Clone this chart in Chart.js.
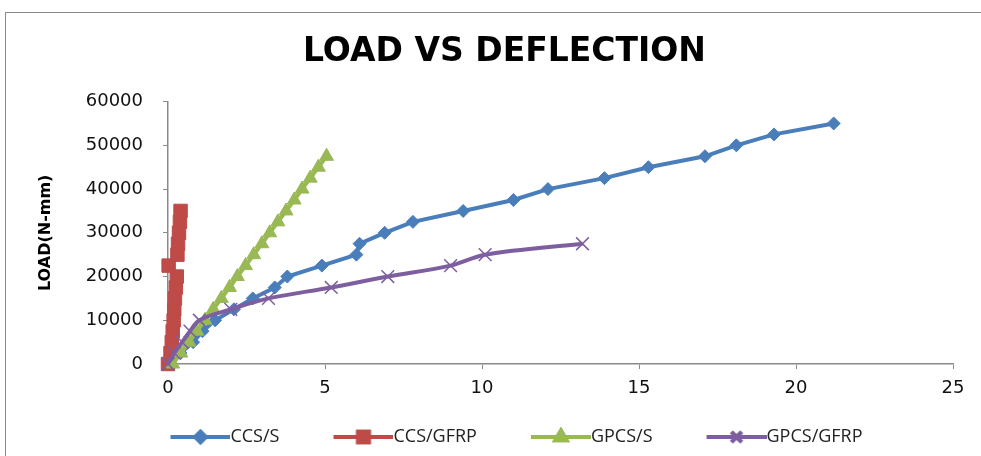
<!DOCTYPE html>
<html>
<head>
<meta charset="utf-8">
<title>Load vs Deflection</title>
<script src="https://cdn.jsdelivr.net/npm/chart.js@4/dist/chart.umd.min.js"></script>
<style>
    html, body { margin: 0; padding: 0; background: #fff; overflow: hidden; }
    #wrap { position: relative; width: 981px; height: 456px; }
    #frame { position: absolute; left: 5px; top: 12px; width: 990px; height: 470px; border: 1px solid #8a8a8a; box-sizing: border-box; }
    #myChart { position: absolute; left: 0; top: 0; }
</style>
</head>
<body>
<div id="wrap">
    <div id="frame"></div>
    <canvas id="myChart" width="981" height="456"></canvas>
</div>
<script>
(function () {
    'use strict';

    var seriesNames = ['CCS/S', 'CCS/GFRP', 'GPCS/S', 'GPCS/GFRP'];

    var ccsSDefl = [0, 0.4, 0.8, 1.1, 1.5, 2.1, 2.7, 3.4, 3.8, 4.9, 6.0, 6.1, 6.9, 7.8, 9.4, 11.0, 12.1, 13.9, 15.3, 17.1, 18.1, 19.3, 21.2];
    var ccsSLoad = [0, 2500, 5000, 7500, 10000, 12500, 15000, 17500, 20000, 22500, 25000, 27500, 30000, 32500, 35000, 37500, 40000, 42500, 45000, 47500, 50000, 52500, 55000];

    var ccsGfrpDefl = [0, 0.08, 0.12, 0.15, 0.18, 0.2, 0.22, 0.25, 0.28, 0.02, 0.3, 0.32, 0.35, 0.38, 0.4];
    var ccsGfrpLoad = [0, 2500, 5000, 7500, 10000, 12500, 15000, 17500, 20000, 22500, 25000, 27500, 30000, 32500, 35000];

    var gpcsSDefl = [0.15, 0.41, 0.67, 0.92, 1.18, 1.44, 1.7, 1.96, 2.21, 2.47, 2.73, 2.99, 3.24, 3.5, 3.76, 4.02, 4.27, 4.53, 4.79, 5.05];
    var gpcsSLoad = [0, 2500, 5000, 7500, 10000, 12500, 15000, 17500, 20000, 22500, 25000, 27500, 30000, 32500, 35000, 37500, 40000, 42500, 45000, 47500];

    var gpcsGfrpDefl = [0, 0.2, 0.45, 0.7, 1.0, 2.0, 3.2, 5.2, 7.0, 9.0, 10.1, 13.2];
    var gpcsGfrpLoad = [0, 2500, 5000, 7500, 10000, 12500, 15000, 17500, 20000, 22500, 25000, 27500];

    var xTicks = [0, 5, 10, 15, 20, 25];
    var yTicks = [0, 10000, 20000, 30000, 40000, 50000, 60000];

    var colors = ['#4A7EBB', '#BE4B48', '#98B954', '#7D5FA0'];
    var markers = ['rectRot', 'rect', 'triangle', 'crossRot'];
    var markerSize = [6.5, 9.5, 8, 9];

    // legend box is wider than the drawn sample, the blank left part spaces the items
    var legendBox = 95;
    var legendLine = 60;

    function toPoints(xs, ys) {
        var pts = [];
        xs.forEach(function (x, i) {
            pts.push({ x: x, y: ys[i] });
        });
        return pts;
    }

    // line + marker sample for the legend
    function legendIcon(i) {
        var c = document.createElement('canvas');
        c.width = legendBox + 18;
        c.height = 20;
        var x0 = c.width - legendLine;
        var ctx = c.getContext('2d');
        ctx.strokeStyle = colors[i];
        ctx.fillStyle = colors[i];
        ctx.lineWidth = 4;
        ctx.beginPath();
        ctx.moveTo(x0, 10);
        ctx.lineTo(c.width, 10);
        ctx.stroke();
        Chart.helpers.drawPoint(ctx, {
            pointStyle: markers[i],
            radius: markerSize[i] * 0.8,
            rotation: 0,
            borderWidth: 1.5
        }, x0 + legendLine / 2, 10);
        ctx.fill();
        ctx.stroke();
        return c;
    }

    var series = [
        toPoints(ccsSDefl, ccsSLoad),
        toPoints(ccsGfrpDefl, ccsGfrpLoad),
        toPoints(gpcsSDefl, gpcsSLoad),
        toPoints(gpcsGfrpDefl, gpcsGfrpLoad)
    ];

    var datasets = series.map(function (pts, i) {
        return {
            label: seriesNames[i],
            data: pts,
            showLine: true,
            borderColor: colors[i],
            backgroundColor: colors[i],
            borderWidth: i === 1 ? 5 : 4,
            tension: i === 3 ? 0.35 : 0,
            pointStyle: markers[i],
            pointRadius: markerSize[i],
            pointBorderWidth: i === 3 ? 1.5 : 1,
            pointBackgroundColor: colors[i],
            pointBorderColor: colors[i],
            clip: false,
            order: 4 - i
        };
    });

    // nudge title and legend to where the original puts them
    var blockShift = {
        id: 'blockShift',
        afterLayout: function (chart) {
            chart.titleBlock.left += 14;
            chart.titleBlock.right += 14;
            chart.legend.left += 4;
            chart.legend.right += 4;
        }
    };

    Chart.defaults.font.family = "'DejaVu Sans', sans-serif";
    Chart.defaults.color = '#111';

    new Chart(document.getElementById('myChart'), {
        type: 'scatter',
        data: { datasets: datasets },
        plugins: [blockShift],
        options: {
            responsive: false,
            animation: false,
            layout: { padding: { left: 28, right: 28, top: 0, bottom: 0 } },
            plugins: {
                title: {
                    display: true,
                    text: 'LOAD VS DEFLECTION',
                    color: '#000',
                    font: { size: 33, weight: 'bold' },
                    padding: { top: 33, bottom: 29 }
                },
                legend: {
                    position: 'bottom',
                    labels: {
                        usePointStyle: true,
                        pointStyleWidth: legendBox,
                        boxHeight: 18,
                        padding: 10,
                        color: '#222',
                        font: { family: "'Open Sans', sans-serif", size: 18 },
                        generateLabels: function () {
                            return seriesNames.map(function (name, i) {
                                return {
                                    text: name,
                                    pointStyle: legendIcon(i),
                                    fillStyle: colors[i],
                                    strokeStyle: colors[i],
                                    lineWidth: 0,
                                    hidden: false,
                                    datasetIndex: i,
                                    fontColor: '#222'
                                };
                            });
                        }
                    }
                },
                tooltip: { enabled: false }
            },
            scales: {
                x: {
                    type: 'linear',
                    min: xTicks[0],
                    max: xTicks[xTicks.length - 1],
                    afterBuildTicks: function (scale) {
                        scale.ticks = xTicks.map(function (v) { return { value: v }; });
                    },
                    afterFit: function (scale) { scale.height = 54; },
                    grid: { drawOnChartArea: false, tickLength: 5, color: '#8a8a8a' },
                    border: { color: '#8a8a8a', width: 1.5 },
                    ticks: { padding: 9, color: '#111', font: { size: 18 } }
                },
                y: {
                    type: 'linear',
                    min: yTicks[0],
                    max: yTicks[yTicks.length - 1],
                    afterBuildTicks: function (scale) {
                        scale.ticks = yTicks.map(function (v) { return { value: v }; });
                    },
                    afterFit: function (scale) { scale.width = 140; },
                    grid: { drawOnChartArea: false, tickLength: 5, color: '#8a8a8a' },
                    border: { color: '#8a8a8a', width: 1.5 },
                    title: {
                        display: true,
                        text: 'LOAD(N-mm)',
                        color: '#000',
                        font: { size: 16, weight: 'bold' },
                        padding: { top: 8, bottom: 0 }
                    },
                    ticks: {
                        padding: 20,
                        color: '#111',
                        font: { size: 18 },
                        callback: function (v) { return String(v); }
                    }
                }
            }
        }
    });
})();
</script>
</body>
</html>
